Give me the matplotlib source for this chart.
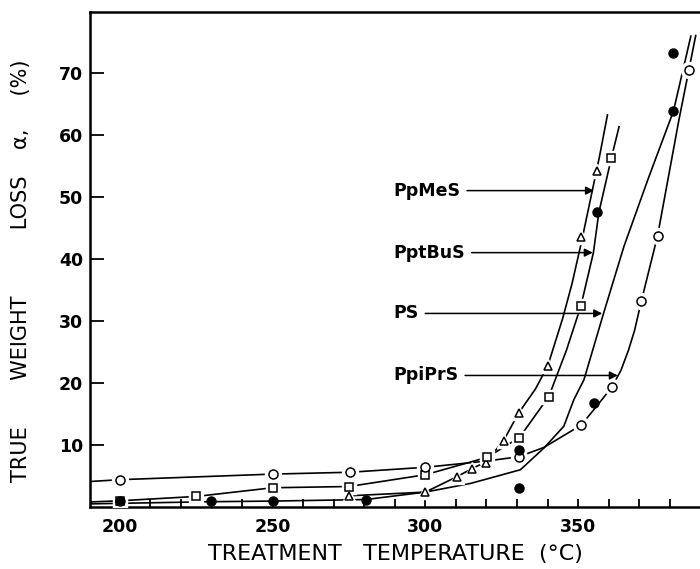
import matplotlib
matplotlib.use('Agg')
import matplotlib.pyplot as plt
from matplotlib.ticker import MultipleLocator

plt.rcParams['font.family'] = ['DejaVu Sans']

# measured points (treatment temperature, true weight loss %)
tri_T = [275, 300, 310.4, 315.3, 320, 325.7, 330.6, 340.1, 350.9, 356.1]
tri_y = [1.8, 2.4, 4.9, 6.2, 7.1, 10.7, 15.2, 22.8, 43.5, 54.1]

sq_T = [200, 225, 250, 275, 300, 320.2, 330.8, 340.4, 350.9, 360.9]
sq_y = [1.0, 1.7, 3.1, 3.3, 5.2, 8.0, 11.2, 17.8, 32.4, 56.3]

dot_T = [200, 229.7, 250, 280.5, 330.6, 330.6, 355.2, 356.3, 381.0, 380.9]
dot_y = [0.9, 0.9, 0.9, 1.2, 3.0, 9.2, 16.7, 47.5, 63.8, 73.2]

circ_T = [200, 250, 275.4, 300, 330.6, 351.0, 361.0, 370.7, 376.0, 386.2]
circ_y = [4.4, 5.3, 5.6, 6.4, 8.1, 13.2, 19.3, 33.2, 43.7, 70.4]

# hand drawn curves
ppmes_T = [275, 300, 310.4, 315.3, 320, 325.7, 330.6, 336, 340.1, 345, 348, 351, 354, 357, 359.6]
ppmes_y = [1.8, 2.4, 4.9, 6.2, 7.3, 10.8, 15.2, 19.0, 22.8, 30.5, 36.0, 42.5, 49.5, 56.5, 63.2]

pptbus_T = [190, 200, 225, 250, 275, 300, 320.2, 330.8, 340.4, 346.2, 350.9, 355.0, 356.8, 360.9, 363.4]
pptbus_y = [0.8, 1.0, 1.7, 3.1, 3.3, 5.2, 8.0, 11.2, 17.8, 25.3, 32.4, 41.0, 47.5, 56.3, 61.3]

ps_T = [190, 229.7, 250, 280.5, 300, 314.8, 331.1, 338.8, 345.3, 348.6, 351.9, 358.5, 365, 373, 381.2, 386.9]
ps_y = [0.5, 0.85, 0.95, 1.2, 2.4, 3.8, 6.0, 9.5, 13.0, 17.3, 20.5, 31.5, 42.0, 53.0, 63.8, 75.9]

ppiprs_T = [190, 200, 250, 275.4, 300, 320, 330.6, 338.8, 351.0, 356, 361.0, 364, 366.5, 368.5, 370.7, 376.0, 383, 388.5]
ppiprs_y = [4.1, 4.4, 5.3, 5.6, 6.4, 7.4, 8.1, 9.6, 13.2, 16.2, 19.3, 22.0, 25.3, 28.5, 33.2, 43.7, 62.4, 76.0]

# labels with arrows: name, y level, arrow tip temperature
labels = ['PpMeS', 'PptBuS', 'PS', 'PpiPrS']
label_y = [51.0, 41.0, 31.2, 21.2]
arrow_T = [355.2, 354.8, 357.9, 363.0]
label_T = 289.4

fig = plt.figure(figsize=(7.0, 5.69), dpi=100)
ax = fig.add_axes([0.1286, 0.109, 0.8714, 0.870])

lw = 1.2
for T, y in [(ppmes_T, ppmes_y), (pptbus_T, pptbus_y), (ps_T, ps_y), (ppiprs_T, ppiprs_y)]:
    ax.plot(T, y, color='black', lw=lw, zorder=2)

# white halos give the broken-line look around the symbols
for T, y, m, ms in [(tri_T, tri_y, '^', 5.5), (sq_T, sq_y, 's', 5.5), (circ_T, circ_y, 'o', 6.5)]:
    ax.plot(T, y, ls='none', marker=m, ms=ms + 5, mfc='white', mec='white', zorder=3)
ax.plot(tri_T, tri_y, ls='none', marker='^', ms=5.5, mfc='white', mec='black', mew=1.1, zorder=4)
ax.plot(sq_T, sq_y, ls='none', marker='s', ms=5.5, mfc='white', mec='black', mew=1.1, zorder=4)
ax.plot(circ_T, circ_y, ls='none', marker='o', ms=6.5, mfc='white', mec='black', mew=1.1, zorder=4)
ax.plot(dot_T, dot_y, ls='none', marker='o', ms=6.5, mfc='black', mec='black', zorder=5)

for name, yv, tip in zip(labels, label_y, arrow_T):
    ax.annotate(name, xy=(tip, yv), xytext=(label_T, yv), va='center', ha='left',
                fontsize=12.5, fontweight='bold',
                arrowprops=dict(arrowstyle='-|>', color='black', lw=1.1,
                                shrinkA=3, shrinkB=0, mutation_scale=12))

ax.set_xlim(190.2, 389.9)
ax.set_ylim(0, 79.8)
ax.xaxis.set_major_locator(MultipleLocator(50))
ax.xaxis.set_minor_locator(MultipleLocator(10))
ax.set_yticks([10, 20, 30, 40, 50, 60, 70])
ax.tick_params(axis='x', which='both', direction='in', length=6, width=1.3, pad=8,
               labelsize=12.5)
ax.tick_params(axis='y', which='major', direction='in', length=10, width=1.3, pad=5,
               labelsize=12.5)
for lab in ax.get_xticklabels() + ax.get_yticklabels():
    lab.set_fontweight('bold')

for s in ['left', 'bottom', 'top']:
    ax.spines[s].set_linewidth(1.8)
ax.spines['right'].set_visible(False)

ax.set_xlabel('TREATMENT   TEMPERATURE  (°C)', fontsize=16)
ax.xaxis.set_label_coords(0.5, -0.075)
ax.set_ylabel('TRUE       WEIGHT          LOSS    α,     (%)', fontsize=15)
ax.yaxis.set_label_coords(-0.097, 0.477)

fig.savefig('out.png', dpi=100)
